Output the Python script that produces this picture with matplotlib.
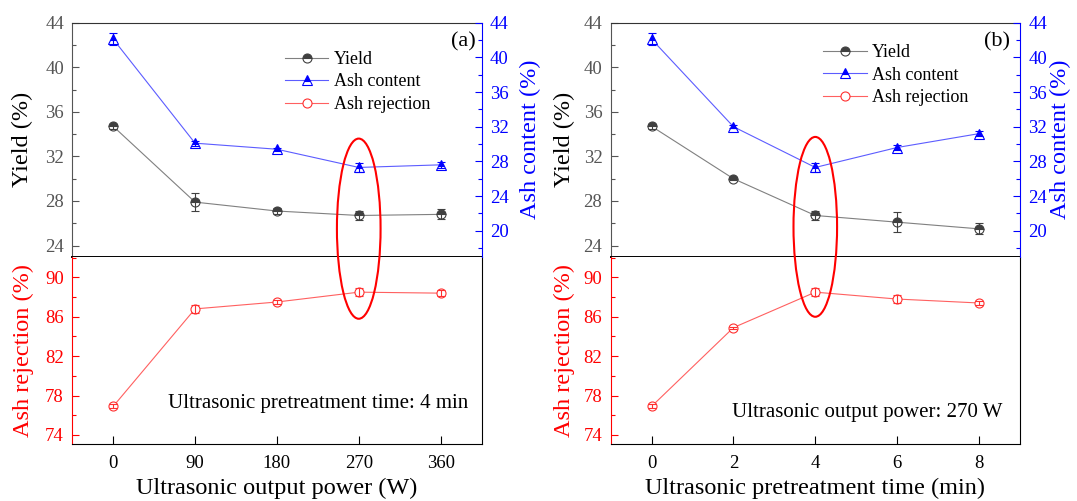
import matplotlib
matplotlib.use("Agg")
import matplotlib.pyplot as plt
from matplotlib.patches import Ellipse
from matplotlib.ticker import MultipleLocator

plt.rcParams['font.family'] = ['Liberation Serif', 'DejaVu Serif']

# ---- data ----
power = [0, 90, 180, 270, 360]
time_min = [0, 2, 4, 6, 8]

yield_a = [34.7, 27.9, 27.1, 26.7, 26.8]
yield_a_err = [0.2, 0.8, 0.3, 0.4, 0.45]
ash_a = [42.1, 30.1, 29.4, 27.3, 27.6]
ash_a_err = [0.7, 0.3, 0.2, 0.5, 0.35]
rej_a = [76.9, 86.8, 87.5, 88.5, 88.4]
rej_a_err = [0.2, 0.4, 0.2, 0.4, 0.3]

yield_b = [34.7, 30.0, 26.7, 26.1, 25.5]
yield_b_err = [0.2, 0.15, 0.4, 0.9, 0.5]
ash_b = [42.1, 32.0, 27.3, 29.6, 31.2]
ash_b_err = [0.7, 0.2, 0.5, 0.3, 0.3]
rej_b = [76.9, 84.9, 88.5, 87.8, 87.4]
rej_b_err = [0.2, 0.1, 0.4, 0.4, 0.2]

GRAY = '#555555'
DARK = '#404040'
BLUE = '#0000ff'
RED = '#ff0000'

fig = plt.figure(figsize=(10.77, 5.01), dpi=100)


def draw_panel(left, x, xlim, xlabel, tag, tag_x, note, note_xy, leg_y,
               yld, yld_err, ash, ash_err, rej, rej_err,
               ring_x, ring_w, ring_top, ring_bot, lab_x, rlab_x):
    width = 0.38
    ax_top = fig.add_axes([left, 0.4876, width, 0.4671])
    ax_bot = fig.add_axes([left, 0.1132, width, 0.3744])
    ax_ash = ax_top.twinx()

    # yield
    l1, = ax_top.plot(x, yld, color='#808080', lw=0.8, marker='o', ms=6.5,
                      fillstyle='top', mfc=DARK, mfcalt='white', mec=DARK,
                      mew=0.8, label='Yield')
    ax_top.errorbar(x, yld, yerr=yld_err, fmt='none', ecolor=DARK,
                    elinewidth=0.8, capsize=3.2, capthick=0.8)
    # ash content
    l2, = ax_ash.plot(x, ash, color='#5c5cff', lw=0.8, marker='^', ms=7,
                      fillstyle='top', mfc=BLUE, mfcalt='white', mec=BLUE,
                      mew=0.8, label='Ash content')
    ax_ash.errorbar(x, ash, yerr=ash_err, fmt='none', ecolor=BLUE,
                    elinewidth=0.8, capsize=3.2, capthick=0.8)
    # ash rejection
    l3, = ax_bot.plot(x, rej, color='#ff6060', lw=0.8, marker='o', ms=6.5,
                      mfc='white', mec='#ff3030', mew=0.8, label='Ash rejection')
    ax_bot.errorbar(x, rej, yerr=rej_err, fmt='none', ecolor='#ff3030',
                    elinewidth=0.8, capsize=3.2, capthick=0.8)

    for ax in (ax_top, ax_bot, ax_ash):
        ax.set_xlim(*xlim)
    ax_top.set_ylim(23, 44)
    ax_ash.set_ylim(17, 44)
    ax_bot.set_ylim(73.05, 92.1)

    # top panel, left axis
    ax_top.yaxis.set_major_locator(MultipleLocator(4))
    ax_top.yaxis.set_minor_locator(MultipleLocator(2))
    ax_top.tick_params(axis='x', which='both', bottom=False, labelbottom=False)
    ax_top.tick_params(axis='y', which='both', direction='in', colors=GRAY,
                       labelsize=13.5, pad=6, width=0.8)
    ax_top.tick_params(axis='y', which='major', length=5)
    ax_top.tick_params(axis='y', which='minor', length=3)
    ax_top.spines['left'].set_color(GRAY)
    ax_top.spines['top'].set_color('#333333')
    ax_top.spines['right'].set_visible(False)
    ax_top.spines['bottom'].set_color('black')
    ax_top.spines['bottom'].set_linewidth(1.4)
    ax_top.set_ylabel('Yield (%)', fontsize=17.5, color='black')

    # top panel, right axis
    ax_ash.set_yticks(range(20, 45, 4))
    ax_ash.yaxis.set_minor_locator(MultipleLocator(2))
    ax_ash.tick_params(axis='y', which='both', direction='in', colors=BLUE,
                       labelsize=13.5, pad=6, width=0.8)
    ax_ash.tick_params(axis='y', which='major', length=5)
    ax_ash.tick_params(axis='y', which='minor', length=3)
    for s in ('left', 'top', 'bottom'):
        ax_ash.spines[s].set_visible(False)
    ax_ash.spines['right'].set_color(BLUE)
    ax_ash.set_ylabel('Ash content (%)', fontsize=17.5, color=BLUE)

    # bottom panel
    ax_bot.set_yticks(range(74, 91, 4))
    ax_bot.yaxis.set_minor_locator(MultipleLocator(2))
    ax_bot.set_xticks(x)
    ax_bot.tick_params(axis='y', which='both', direction='in', colors=RED,
                       labelsize=13.5, pad=6, width=0.8)
    ax_bot.tick_params(axis='y', which='major', length=5)
    ax_bot.tick_params(axis='y', which='minor', length=3)
    ax_bot.tick_params(axis='x', direction='in', length=5.5, width=0.8,
                       labelsize=13.5, pad=8)
    ax_bot.spines['top'].set_visible(False)
    ax_bot.spines['left'].set_color(RED)
    ax_bot.set_ylabel('Ash rejection (%)', fontsize=17.5, color=RED)
    ax_bot.set_xlabel(xlabel, fontsize=17.5)

    ax_top.yaxis.set_label_coords(lab_x, 0.5)
    ax_bot.yaxis.set_label_coords(lab_x, 0.5)
    ax_ash.yaxis.set_label_coords(rlab_x, 0.5)
    ax_bot.xaxis.set_label_coords(0.5, -0.2345)
    for lab in (ax_top.yaxis.label, ax_bot.yaxis.label, ax_ash.yaxis.label,
                ax_bot.xaxis.label):
        lab.set_verticalalignment('center')

    ax_ash.legend([l1, l2, l3], ['Yield', 'Ash content', 'Ash rejection'],
                  loc='upper left', bbox_to_anchor=(0.52, leg_y),
                  frameon=False, fontsize=13, handlelength=2.4,
                  handletextpad=0.3, labelspacing=0.3, borderpad=0,
                  borderaxespad=0)
    ax_ash.text(tag_x, 0.919, tag, transform=ax_ash.transAxes, fontsize=16,
                ha='right', va='center')
    ax_bot.text(note_xy[0], note_xy[1], note, transform=ax_bot.transAxes,
                fontsize=15, ha='right', va='center')

    # red ring spanning both panels
    p_top = ax_top.transData.transform((ring_x, ring_top))
    p_bot = ax_bot.transData.transform((ring_x, ring_bot))
    p_side = ax_top.transData.transform((ring_x + ring_w / 2, ring_top))
    fw, fh = fig.bbox.width, fig.bbox.height
    cx = p_top[0] / fw
    cy = (p_top[1] + p_bot[1]) / 2 / fh
    ring = Ellipse((cx, cy), 2 * (p_side[0] - p_top[0]) / fw,
                   (p_top[1] - p_bot[1]) / fh, transform=fig.transFigure,
                   fill=False, ec=RED, lw=1.5, zorder=10)
    fig.add_artist(ring)


draw_panel(0.0671, power, (-45, 405), 'Ultrasonic output power (W)', '(a)', 0.985,
           'Ultrasonic pretreatment time: 4 min', (0.9675, 0.215), 0.879,
           yield_a, yield_a_err, ash_a, ash_a_err, rej_a, rej_a_err,
           270, 48, 33.6, 85.8, -0.1205, 1.12)
draw_panel(0.5670, time_min, (-1, 9), 'Ultrasonic pretreatment time (min)', '(b)', 0.9766,
           'Ultrasonic output power: 270 W', (0.957, 0.171), 0.908,
           yield_b, yield_b_err, ash_b, ash_b_err, rej_b, rej_b_err,
           4, 1.065, 33.75, 86.0, -0.114, 1.10)

fig.savefig('out.png', dpi=100)
